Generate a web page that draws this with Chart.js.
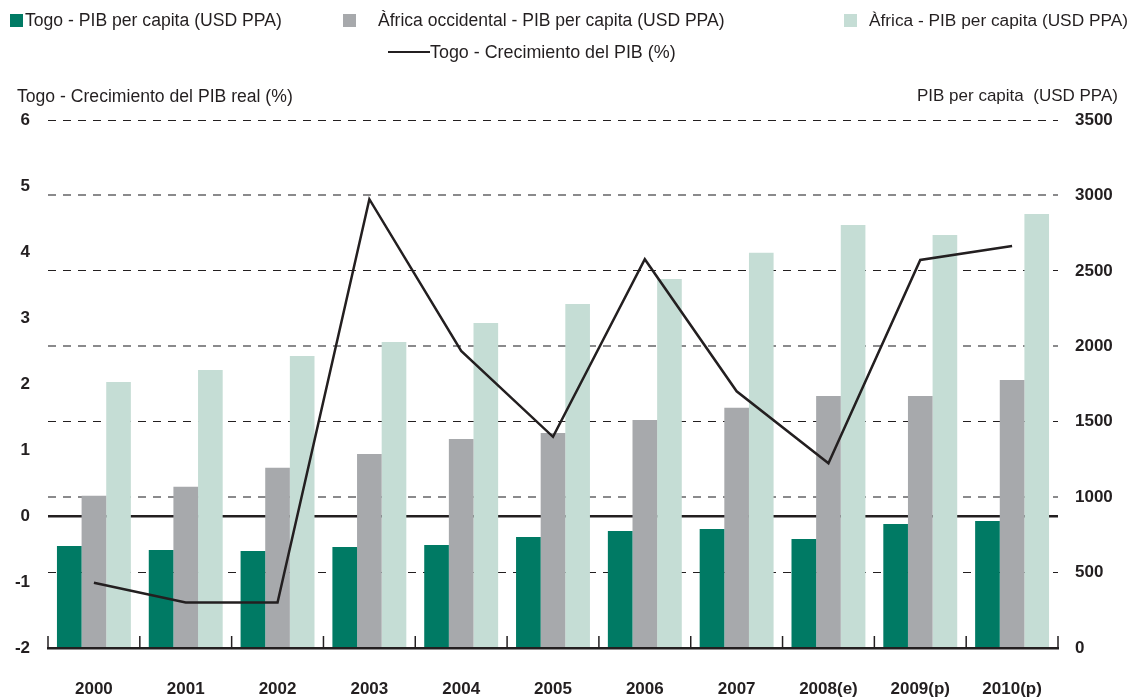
<!DOCTYPE html>
<html><head><meta charset="utf-8">
<script src="https://cdn.jsdelivr.net/npm/chart.js@4.4.0/dist/chart.umd.min.js"></script>
<style>
html,body{margin:0;padding:0;background:#fff;}
#wrap{position:relative;width:1130px;height:697px;font-family:"Liberation Sans",Arial,sans-serif;color:#231f20;overflow:hidden;}
#c{position:absolute;left:0;top:0;}
.t{position:absolute;font-size:17px;white-space:pre;line-height:20px;}
.box{position:absolute;width:13px;height:13px;}
.ln{position:absolute;height:2px;background:#231f20;}
</style></head><body>
<div id="wrap">
<canvas id="c" width="1130" height="697" style="width:1130px;height:697px"></canvas>
<div class="box" style="left:10px;top:14px;background:#007a64"></div>
<div class="t" style="left:25px;top:10px;font-size:17.6px">Togo - PIB per capita (USD PPA)</div>
<div class="box" style="left:343px;top:14px;background:#a7a9ac"></div>
<div class="t" style="left:378px;top:10px;font-size:17.55px">Àfrica occidental - PIB per capita (USD PPA)</div>
<div class="box" style="left:844px;top:14px;background:#c5ddd5"></div>
<div class="t" style="left:869px;top:10px;font-size:17.3px">Àfrica - PIB per capita (USD PPA)</div>
<div class="ln" style="left:388px;top:51px;width:42px"></div>
<div class="t" style="left:430px;top:42px;font-size:17.9px">Togo - Crecimiento del PIB (%)</div>
<div class="t" style="left:17px;top:86px;font-size:17.6px">Togo - Crecimiento del PIB real (%)</div>
<div class="t" style="left:917px;top:86px">PIB per capita  (USD PPA)</div>
</div>
<script>
const years = ['2000','2001','2002','2003','2004','2005','2006','2007','2008(e)','2009(p)','2010(p)'];
const togoPib = [676, 650, 643, 670, 683, 736, 776, 789, 723, 822, 842];
const westAfricaPib = [1010, 1069, 1195, 1286, 1385, 1425, 1511, 1593, 1670, 1670, 1777];
const africaPib = [1763, 1843, 1936, 2028, 2154, 2280, 2446, 2620, 2804, 2738, 2877];
const togoGrowth = [-1.01, -1.31, -1.31, 4.80, 2.50, 1.20, 3.89, 1.89, 0.80, 3.88, 4.09];
const leftTicks = {min: -2, max: 6, step: 1};
const rightTicks = {min: 0, max: 3500, step: 500};

const FONT = '"Liberation Sans", Arial, sans-serif';
const INK = '#231f20';

const xTickMarks = {
  id: 'xTickMarks',
  afterDraw(chart) {
    const x = chart.scales.x, a = chart.chartArea, c = chart.ctx;
    const n = chart.data.labels.length;
    const w = x.getPixelForTick(1) - x.getPixelForTick(0);
    c.save();
    c.strokeStyle = INK;
    c.lineWidth = 1.5;
    for (let i = 0; i <= n; i++) {
      const px = x.getPixelForTick(0) - w / 2 + i * w;
      c.beginPath();
      c.moveTo(px, a.bottom);
      c.lineTo(px, a.bottom - 12);
      c.stroke();
    }
    c.restore();
  }
};

new Chart(document.getElementById('c'), {
  data: {
    labels: years,
    datasets: [
      {type: 'line', label: 'Togo - Crecimiento del PIB (%)', data: togoGrowth, yAxisID: 'y',
       borderColor: INK, borderWidth: 2.5, pointRadius: 0, tension: 0, order: 0},
      {type: 'bar', label: 'Togo - PIB per capita (USD PPA)', data: togoPib, yAxisID: 'y1',
       backgroundColor: '#007a64', categoryPercentage: 0.805, barPercentage: 1, order: 1},
      {type: 'bar', label: 'Àfrica occidental - PIB per capita (USD PPA)', data: westAfricaPib, yAxisID: 'y1',
       backgroundColor: '#a7a9ac', categoryPercentage: 0.805, barPercentage: 1, order: 1},
      {type: 'bar', label: 'Àfrica - PIB per capita (USD PPA)', data: africaPib, yAxisID: 'y1',
       backgroundColor: '#c5ddd5', categoryPercentage: 0.805, barPercentage: 1, order: 1}
    ]
  },
  options: {
    responsive: false,
    animation: false,
    devicePixelRatio: 1,
    layout: {padding: {top: 120, left: 0, right: 0, bottom: 0}},
    plugins: {legend: {display: false}, tooltip: {enabled: false}},
    scales: {
      x: {
        grid: {display: false, drawTicks: false},
        border: {display: true, color: INK, width: 2.5},
        ticks: {font: {family: FONT, size: 17, weight: 'bold'}, color: INK, padding: 31, maxRotation: 0},
        afterFit(s) { s.height = 49; }
      },
      y: {
        position: 'left', min: leftTicks.min, max: leftTicks.max, z: 1,
        ticks: {stepSize: leftTicks.step, font: {family: FONT, size: 17, weight: 'bold'}, color: INK, padding: 18},
        grid: {drawTicks: false,
               color: ctx => ctx.tick && ctx.tick.value === 0 ? INK : 'rgba(0,0,0,0)',
               lineWidth: ctx => ctx.tick && ctx.tick.value === 0 ? 2.5 : 0},
        border: {display: false},
        afterFit(s) { s.width = 48; }
      },
      y1: {
        position: 'right', min: rightTicks.min, max: rightTicks.max,
        ticks: {stepSize: rightTicks.step, font: {family: FONT, size: 17, weight: 'bold'}, color: INK, padding: 17,
                callback: v => String(v)},
        grid: {drawTicks: false,
               color: ctx => {
                 const v = ctx.tick ? ctx.tick.value : 0;
                 if (v === 0) return 'rgba(0,0,0,0)';
                 return v % 1000 === 0 ? '#8a8a8c' : INK;
               },
               lineWidth: ctx => {
                 const v = ctx.tick ? ctx.tick.value : 0;
                 return v % 1000 === 0 ? 2 : 1;
               }},
        border: {display: false, dash: [8, 7]},
        afterFit(s) { s.width = 72; }
      }
    }
  },
  plugins: [xTickMarks]
});
</script>
</body></html>
